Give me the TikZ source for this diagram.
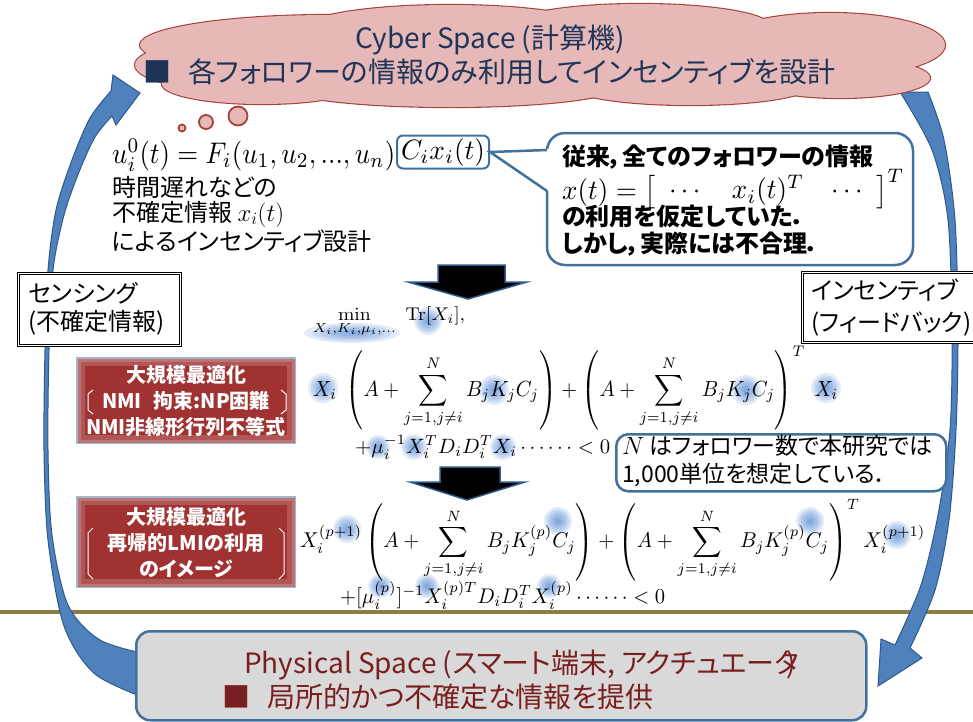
\documentclass[tikz,border=0pt]{standalone}
\usepackage[no-math]{fontspec}
\usepackage{graphicx}
\usepackage{amsmath}
\newfontfamily\jp[RawFeature=+palt]{Noto Sans CJK JP}
\definecolor{cloudfill}{HTML}{E6B9B8}
\definecolor{cloudline}{HTML}{A5403A}
\definecolor{navy}{HTML}{1F3557}
\definecolor{arrowfill}{HTML}{4F81BD}
\definecolor{arrowline}{HTML}{2C5A8E}
\definecolor{boxblue}{HTML}{41719C}
\definecolor{boxred}{HTML}{A03232}
\definecolor{oliveline}{HTML}{8C7D45}
\definecolor{physfill}{HTML}{D9D9D9}
\definecolor{phystext}{HTML}{7A1F1F}
\definecolor{glowc}{HTML}{2F6FC8}
\newcommand\glowat[3]{\foreach \gk in {1,...,6}{\fill[glowc,opacity=0.14] (#1,#2) circle [radius={#3*\gk/6*1pt}];}}
\newcommand\glowell[4]{\foreach \gk in {1,...,6}{\fill[glowc,opacity=0.13] (#1,#2) ellipse [x radius={#3*\gk/6*1pt}, y radius={#4*\gk/6*1pt}];}}
\begin{document}
\begin{tikzpicture}[x=1pt,y=-1pt,
  jptext/.style={font=\jp\fontsize{24}{28}\selectfont, inner sep=0pt},
  jpbold/.style={font=\jp\bfseries\fontsize{24}{28}\selectfont, inner sep=0pt, anchor=west},
  cloudtext/.style={font=\jp\fontsize{28}{32}\selectfont, text=navy, inner sep=0pt},
  phystextst/.style={font=\jp\fontsize{28}{32}\selectfont, text=phystext, inner sep=0pt},
  bigarrow/.style={fill=arrowfill, draw=arrowline, line width=1pt},
  blkarrow/.style={fill=black, draw=arrowline, line width=1.5pt},
  dbox/.style={draw=black, double=white, double distance=1.5pt, line width=1pt, fill=white},
  redbox/.style={fill=boxred, draw=none},
  bluebox/.style={draw=boxblue, line width=2.5pt, fill=white, rounded corners=14pt},
  eqnode/.style={inner sep=0pt, anchor=west},
  bubble/.style={fill=cloudfill, draw=cloudline, line width=1.8pt}
]
\useasboundingbox (0,0) rectangle (973,721);
\clip (0,0) rectangle (973,721);

% olive separator
\draw[oliveline, line width=4pt] (0,612) -- (973,612);

% right arrow (under the cloud)
\filldraw[bigarrow] plot[smooth] coordinates {(928,92) (944,140) (955,220) (958,330) (956,430) (949,520) (935,590) (910,648)}
  -- (922,658) -- (878,686) -- (881,639) -- (895,645)
  -- plot[smooth] coordinates {(895,645) (921,585) (938,515) (950,430) (952,330) (948,220) (932,150) (900,92)} -- cycle;

% cloud
\foreach \cx/\cy/\rx/\ry in {330/45/190/30, 450/30/150/25, 640/26/130/22, 830/45/115/32, 232/65/97/25, 262/84/100/20, 450/86/170/21, 690/86/120/19, 840/78/90/20, 540/58/380/35}
  \draw[cloudline, line width=2.2pt] (\cx,\cy) ellipse [x radius=\rx pt, y radius=\ry pt];
\foreach \cx/\cy/\rx/\ry in {330/45/190/30, 450/30/150/25, 640/26/130/22, 830/45/115/32, 232/65/97/25, 262/84/100/20, 450/86/170/21, 690/86/120/19, 840/78/90/20, 540/58/380/35}
  \fill[cloudfill] (\cx,\cy) ellipse [x radius=\rx pt, y radius=\ry pt];
\node[cloudtext] (cyber) at (490,40) {Cyber Space (計算機)};
\node[cloudtext, anchor=west] (cyber2) at (143,72) {■\hspace{0.6em}各フォロワーの情報のみ利用してインセンティブを設計};

% thought bubbles
\draw[bubble] (182,128) circle (3.5pt);
\draw[bubble] (206,122) circle (7pt);
\draw[bubble] (238,116) circle (9.5pt);

% left arrow (over the cloud)
\filldraw[bigarrow] plot[smooth] coordinates {(150,700) (95,674) (64,626) (48,540) (44,450) (45,350) (48,270) (56,210) (72,160) (90,118) (111,91)}
  -- (113,75) -- (140,93) -- (116,125) -- (112,116)
  -- plot[smooth] coordinates {(112,116) (95,137) (79,172) (64,215) (53,270) (49,350) (48,450) (52,535) (68,605) (100,640) (150,655)} -- cycle;

% left equation and callout
\node[eqnode] (ueq) at (112,155) {\resizebox*{283pt}{32pt}{$u_i^0(t)=F_i(u_1,u_2,...,u_n)$}};
\node[draw=boxblue, line width=2pt, rounded corners=6pt, minimum width=92pt, minimum height=33pt, inner sep=0pt] (cx) at (443,152) {\resizebox*{84pt}{28pt}{$C_ix_i(t)$}};
\node[jptext, anchor=west] (l1) at (112,187) {時間遅れなどの};
\node[jptext, anchor=west] (l2) at (112,214) {不確定情報 $x_i(t)$};
\node[jptext, anchor=west] (l3) at (112,241) {によるインセンティブ設計};

\draw[draw=boxblue, line width=2.5pt, fill=white, rounded corners=18pt] (547,133) rectangle (913,265);
\fill[white] (550,149) -- (cx.east) -- (550,192) -- cycle;
\draw[boxblue, line width=2.5pt, line join=miter] (547,150) -- (cx.east) -- (547,191);
\node[jpbold] (c1) at (562,157) {従来，全てのフォロワーの情報};
\node[eqnode] (c2) at (562,189) {\resizebox*{342pt}{40pt}{$x(t)=\left[\begin{array}{ccc}\cdots & x_i(t)^T & \cdots\end{array}\right]^T$}};
\node[jpbold] (c3) at (562,216) {の利用を仮定していた．};
\node[jpbold] (c4) at (562,244) {しかし，実際には不合理．};

% side boxes
\node[dbox, minimum width=162pt, minimum height=72pt, anchor=north west] (sens) at (18,273) {};
\node[jptext, anchor=west, align=left, font=\jp\fontsize{24}{28}\selectfont] (senst) at (28,309) {センシング\\(不確定情報)};
\node[dbox, minimum width=190pt, minimum height=70pt, anchor=north west] (fb) at (802,272) {};
\node[jptext, anchor=west, align=left, font=\jp\fontsize{24}{32}\selectfont] (fbt) at (811,308) {インセンティブ\\(フィードバック)};

% block arrows
\draw[blkarrow] (438,265) -- (505,265) -- (505,282) -- (527,282) -- (468,299) -- (408,282) -- (438,282) -- cycle;
\draw[blkarrow] (440,467) -- (500,467) -- (500,482) -- (525,482) -- (467,500) -- (410,482) -- (440,482) -- cycle;

% glows
\glowell{352}{333}{48}{10}
\glowat{428}{321}{14}
\glowat{323}{388}{15}
\glowat{494}{390}{15}
\glowat{746}{390}{15}
\glowat{826}{388}{15}
\glowat{378}{447}{12}
\glowat{414}{447}{13}
\glowat{503}{447}{13}
\glowat{347}{529}{14}
\glowat{558}{521}{14}
\glowat{810}{521}{14}
\glowat{897}{535}{14}
\glowat{380}{586}{12}
\glowat{427}{586}{12}
\glowat{549}{586}{12}

% equations
\node[eqnode] (e1a) at (313,322) {\resizebox*{152pt}{30pt}{$\displaystyle\min_{X_i,K_i,\mu_i,\ldots}\ \mathrm{Tr}[X_i],$}};
\node[eqnode] (e1b) at (313,388) {\resizebox*{525pt}{84pt}{$\displaystyle X_i\;\left(A+\sum_{j=1,j\neq i}^{N}B_jK_jC_j\right)+\left(A+\sum_{j=1,j\neq i}^{N}B_jK_jC_j\right)^{T}\;X_i$}};
\node[eqnode] (e1c) at (355,447) {\resizebox*{255pt}{24pt}{$+\mu_i^{-1}X_i^TD_iD_i^TX_i\cdots\cdots<0$}};
\node[eqnode] (e2a) at (300,540) {\resizebox*{625pt}{82pt}{$\displaystyle X_i^{(p+1)}\left(A+\sum_{j=1,j\neq i}^{N}B_jK_j^{(p)}C_j\right)+\left(A+\sum_{j=1,j\neq i}^{N}B_jK_j^{(p)}C_j\right)^{T}X_i^{(p+1)}$}};
\node[eqnode] (e2b) at (340,595) {\resizebox*{325pt}{28pt}{$+[\mu_i^{(p)}]^{-1}X_i^{(p)T}D_iD_i^TX_i^{(p)}\cdots\cdots<0$}};

% N box
\node[bluebox, rounded corners=12pt, minimum width=330pt, minimum height=57pt, anchor=north west] (nbox) at (615,433) {};
\node[jptext, anchor=west, align=left, font=\jp\fontsize{23}{28}\selectfont] (nt) at (622,461) {$N$ はフォロワー数で本研究では\\1,000単位を想定している．};

% red boxes
\node[redbox, minimum width=218pt, minimum height=85pt, anchor=north west] (r1) at (77,358) {};
\draw[white, opacity=0.18, line width=8pt] ([shift={(4pt,-4pt)}]r1.north west) rectangle ([shift={(-4pt,4pt)}]r1.south east);
\draw[white, opacity=0.18, line width=3pt] ([shift={(2pt,-2pt)}]r1.north west) rectangle ([shift={(-2pt,2pt)}]r1.south east);
\draw[boxblue!50, line width=1.5pt] (r1.north west) rectangle (r1.south east);
\node[text=white, font=\jp\bfseries\fontsize{20}{26}\selectfont, align=center, inner sep=0pt] (r1t) at (186,401) {大規模最適化\\NMI\hspace{0.6em}拘束:NP困難\\NMI非線形行列不等式};
\draw[white, line width=1pt] (93,390) -- (88,394) -- (88,410) -- (93,414);
\draw[white, line width=1pt] (281,390) -- (286,394) -- (286,410) -- (281,414);

\node[redbox, minimum width=218pt, minimum height=90pt, anchor=north west] (r2) at (77,497) {};
\draw[white, opacity=0.18, line width=8pt] ([shift={(4pt,-4pt)}]r2.north west) rectangle ([shift={(-4pt,4pt)}]r2.south east);
\draw[white, opacity=0.18, line width=3pt] ([shift={(2pt,-2pt)}]r2.north west) rectangle ([shift={(-2pt,2pt)}]r2.south east);
\draw[boxblue!50, line width=1.5pt] (r2.north west) rectangle (r2.south east);
\node[text=white, font=\jp\bfseries\fontsize{20}{26}\selectfont, align=center, inner sep=0pt] (r2t) at (186,543) {大規模最適化\\再帰的LMIの利用\\のイメージ};
\draw[white, line width=1pt] (93,528) -- (88,533) -- (88,574) -- (93,579);
\draw[white, line width=1pt] (279,528) -- (284,533) -- (284,574) -- (279,579);

% physical space box
\node[draw=boxblue, line width=2.5pt, fill=physfill, rounded corners=14pt, minimum width=730pt, minimum height=89pt, anchor=north west] (phys) at (135,630) {};
\node[phystextst] (p1) at (520,665) {Physical Space (スマート端末, アクチュエータ\hspace{-0.45em})};
\node[phystextst, anchor=west] (p2) at (222,697) {■\hspace{0.6em}局所的かつ不確定な情報を提供};
\end{tikzpicture}
\end{document}
